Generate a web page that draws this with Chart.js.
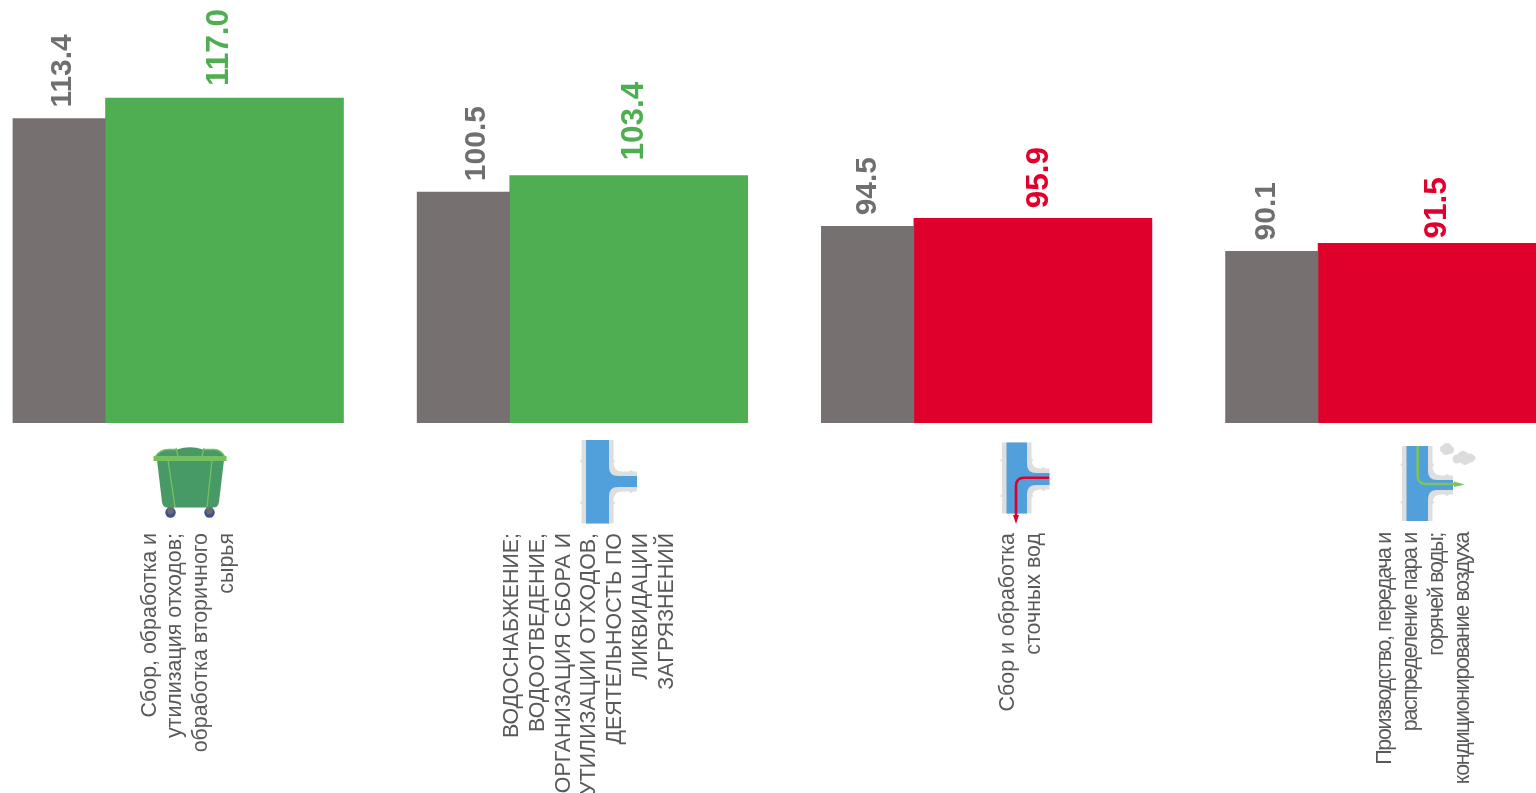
<!DOCTYPE html>
<html>
<head>
<meta charset="utf-8">
<style>
  html, body { margin: 0; padding: 0; background: #fff; overflow: hidden; }
  canvas { display: block; }
</style>
<script src="https://cdn.jsdelivr.net/npm/chart.js@4"></script>
</head>
<body>
<canvas id="chart" width="1536" height="793"></canvas>
<script>
// data
const categories = [
  ["Сбор, обработка и", "утилизация отходов;", "обработка вторичного", "сырья"],
  ["ВОДОСНАБЖЕНИЕ;", "ВОДООТВЕДЕНИЕ,", "ОРГАНИЗАЦИЯ СБОРА И", "УТИЛИЗАЦИИ ОТХОДОВ,", "ДЕЯТЕЛЬНОСТЬ ПО", "ЛИКВИДАЦИИ", "ЗАГРЯЗНЕНИЙ"],
  ["Сбор и обработка", "сточных вод"],
  ["Производство, передача и", "распределение пара и", "горячей воды;", "кондиционирование воздуха"]
];
const prevValues = [113.4, 100.5, 94.5, 90.1];
const currValues = [117.0, 103.4, 95.9, 91.5];

const GRAY = "#767170", GREEN = "#4fae52", RED = "#e0002c";
const currColors = currValues.map(v => v >= 100 ? GREEN : RED);

// layout
const UNIT = 404.2;          // px between categories
const FIRST = 59.2;          // px of first gray bar centre
const PAIR_SHIFT = 165.3 / UNIT;
const prevLabelShift = [3.5, 13.5, 0.5, -5.5];
const currLabelShift = [-5, 6, 6, 0];
const currLabelLift = [12, 15, 10, 5];
const catCenter = [188.5, 589.5, 1021, 1424.5];
const catSpacing = [25.8, 25.8, 26, 26];
const catTracking = ["0px", "0px", "0px", "-1.3px"];

function pipe(ctx, p, color, m) {
  // p: l,r blue edges; t,b vertical ends; e branch end; y1,y2 branch edges
  const r = 9;
  ctx.fillStyle = color;
  ctx.beginPath();
  ctx.moveTo(p.l - m, p.t);
  ctx.lineTo(p.r + m, p.t);
  ctx.lineTo(p.r + m, p.y1 - m - r);
  ctx.quadraticCurveTo(p.r + m, p.y1 - m, p.r + m + r, p.y1 - m);
  ctx.lineTo(p.e, p.y1 - m);
  ctx.lineTo(p.e, p.y2 + m);
  ctx.lineTo(p.r + m + r, p.y2 + m);
  ctx.quadraticCurveTo(p.r + m, p.y2 + m, p.r + m, p.y2 + m + r);
  ctx.lineTo(p.r + m, p.b);
  ctx.lineTo(p.l - m, p.b);
  ctx.closePath();
  ctx.fill();
}

function pipeIcon(ctx, p) {
  pipe(ctx, p, "#dedede", p.m);
  ctx.fillStyle = "#dedede";
  const h = p.b - p.t;
  [[p.l - p.m, p.t + h * 0.25], [p.r + p.m, p.t + h * 0.25], [p.l - p.m, p.t + h * 0.75], [p.r + p.m, p.t + h * 0.75],
   [p.e - 6, p.y1 - p.m], [p.e - 6, p.y2 + p.m]].forEach(d => {
    ctx.beginPath();
    ctx.arc(d[0], d[1], 1.5, 0, Math.PI * 2);
    ctx.fill();
  });
  pipe(ctx, p, "#519fdb", 0);
}

function drawBin(ctx) {
  const wheel = (x) => {
    ctx.fillStyle = "#3d4f8f";
    ctx.beginPath(); ctx.arc(x, 512.5, 5.2, 0, Math.PI * 2); ctx.fill();
    ctx.fillStyle = "#6b6b6b";
    ctx.beginPath(); ctx.arc(x, 511.5, 3, 0, Math.PI * 2); ctx.fill();
    ctx.fillRect(x - 3, 507, 6, 5);
  };
  wheel(170.5); wheel(209.5);
  ctx.fillStyle = "#479a66";
  ctx.beginPath();
  ctx.moveTo(157, 460);
  ctx.lineTo(162, 502);
  ctx.quadraticCurveTo(162.5, 507.5, 168, 507.5);
  ctx.lineTo(213, 507.5);
  ctx.quadraticCurveTo(218.5, 507.5, 219, 502);
  ctx.lineTo(224, 460);
  ctx.closePath();
  ctx.fill();
  // lid
  ctx.beginPath();
  ctx.moveTo(155, 457);
  ctx.quadraticCurveTo(160, 449.5, 168, 449.5);
  ctx.lineTo(177, 449.5);
  ctx.quadraticCurveTo(190, 445, 203, 449.5);
  ctx.lineTo(214, 449.5);
  ctx.quadraticCurveTo(221, 449.5, 225, 457);
  ctx.closePath();
  ctx.fill();
  ctx.strokeStyle = "#76c060";
  ctx.lineWidth = 1.3;
  ctx.beginPath();
  ctx.moveTo(155, 457); ctx.quadraticCurveTo(160, 449.5, 168, 449.5); ctx.lineTo(177, 449.5);
  ctx.moveTo(203, 449.5); ctx.lineTo(214, 449.5); ctx.quadraticCurveTo(221, 449.5, 225, 457);
  ctx.moveTo(176, 448); ctx.lineTo(178, 456);
  ctx.moveTo(204, 448); ctx.lineTo(202, 456);
  ctx.moveTo(168, 460); ctx.lineTo(175, 507);
  ctx.moveTo(212, 460); ctx.lineTo(207, 507);
  ctx.stroke();
  ctx.fillStyle = "#76c060";
  ctx.fillRect(153.5, 456, 73, 5);
}

function drawRoute(ctx, color, pts, tip) {
  ctx.strokeStyle = color;
  ctx.lineWidth = 2.6;
  ctx.beginPath();
  ctx.moveTo(pts[0][0], pts[0][1]);
  ctx.lineTo(pts[1][0], pts[1][1]);
  ctx.quadraticCurveTo(pts[2][0], pts[2][1], pts[3][0], pts[3][1]);
  ctx.lineTo(pts[4][0], pts[4][1]);
  ctx.stroke();
  ctx.fillStyle = color;
  ctx.beginPath();
  tip.forEach((q, i) => i ? ctx.lineTo(q[0], q[1]) : ctx.moveTo(q[0], q[1]));
  ctx.closePath();
  ctx.fill();
}

function drawIcons(ctx) {
  drawBin(ctx);
  pipeIcon(ctx, { l: 586, r: 609, t: 440, b: 523.5, e: 637, y1: 476, y2: 487, m: 4.5 });
  pipeIcon(ctx, { l: 1006.5, r: 1027, t: 442.5, b: 513.5, e: 1049.5, y1: 473, y2: 485, m: 4.5 });
  pipeIcon(ctx, { l: 1406.5, r: 1428, t: 446, b: 521, e: 1453, y1: 480, y2: 490, m: 4.5 });
  drawRoute(ctx, RED, [[1049, 477.7], [1024, 477.7], [1016, 477.7], [1016, 486], [1016, 517]],
    [[1013, 515], [1019, 515], [1016, 524]]);
  drawRoute(ctx, "#7ec25e", [[1417.7, 446], [1417.7, 476], [1417.7, 484], [1426, 484], [1456, 484]],
    [[1454, 481.5], [1465, 484.5], [1454, 487]]);
  // steam clouds
  ctx.fillStyle = "#dcdcdc";
  [[1447, 448, 5], [1443.5, 449, 3.5], [1450, 450, 4], [1446, 451, 4],
   [1463, 457, 6], [1457, 459, 4.5], [1470, 458, 4.5], [1465, 460, 5], [1473, 458, 2.5]].forEach(c => {
    ctx.beginPath();
    ctx.arc(c[0], c[1], c[2], 0, Math.PI * 2);
    ctx.fill();
  });
}

function vText(ctx, text, x, y) {
  ctx.save();
  ctx.translate(x, y);
  ctx.rotate(-Math.PI / 2);
  ctx.fillText(text, 0, 0);
  ctx.restore();
}

const annotations = {
  id: "annotations",
  afterDraw(chart) {
    const ctx = chart.ctx;
    const xs = chart.scales.x, ys = chart.scales.y;
    ctx.save();
    // value labels above the bars
    ctx.font = "bold 30px 'Liberation Sans'";
    ctx.textAlign = "left";
    ctx.textBaseline = "middle";
    prevValues.forEach((v, i) => {
      ctx.fillStyle = "#6f6f6f";
      vText(ctx, v.toFixed(1), xs.getPixelForValue(i) + prevLabelShift[i], ys.getPixelForValue(v) - 11);
    });
    ctx.font = "bold 31.5px 'Liberation Sans'";
    currValues.forEach((v, i) => {
      ctx.fillStyle = currColors[i];
      vText(ctx, v.toFixed(1), xs.getPixelForValue(i + PAIR_SHIFT) + currLabelShift[i], ys.getPixelForValue(v) - currLabelLift[i]);
    });
    // category names, right aligned in the rotated frame
    ctx.font = "21.4px 'Liberation Sans'";
    ctx.textAlign = "right";
    ctx.fillStyle = "#595959";
    categories.forEach((lines, i) => {
      ctx.letterSpacing = catTracking[i];
      lines.forEach((line, k) => {
        const x = catCenter[i] + (k - (lines.length - 1) / 2) * catSpacing[i];
        vText(ctx, line, x, 533);
      });
    });
    ctx.letterSpacing = "0px";
    drawIcons(ctx);
    ctx.restore();
  }
};

new Chart(document.getElementById("chart"), {
  type: "bar",
  data: {
    datasets: [
      {
        data: prevValues.map((v, i) => ({ x: i, y: v })),
        backgroundColor: GRAY,
        barThickness: 92.5,
        grouped: false
      },
      {
        data: currValues.map((v, i) => ({ x: i + PAIR_SHIFT, y: v })),
        backgroundColor: currColors,
        barThickness: 238,
        grouped: false
      }
    ]
  },
  options: {
    responsive: false,
    animation: false,
    devicePixelRatio: 1,
    layout: { padding: { bottom: 370 } },
    plugins: { legend: { display: false }, tooltip: { enabled: false } },
    scales: {
      x: { type: "linear", display: false, offset: false, min: -FIRST / UNIT, max: (1536 - FIRST) / UNIT },
      y: { display: false, min: 60, max: 60 + 423 / 5.7 }
    }
  },
  plugins: [annotations]
});
</script>
</body>
</html>
